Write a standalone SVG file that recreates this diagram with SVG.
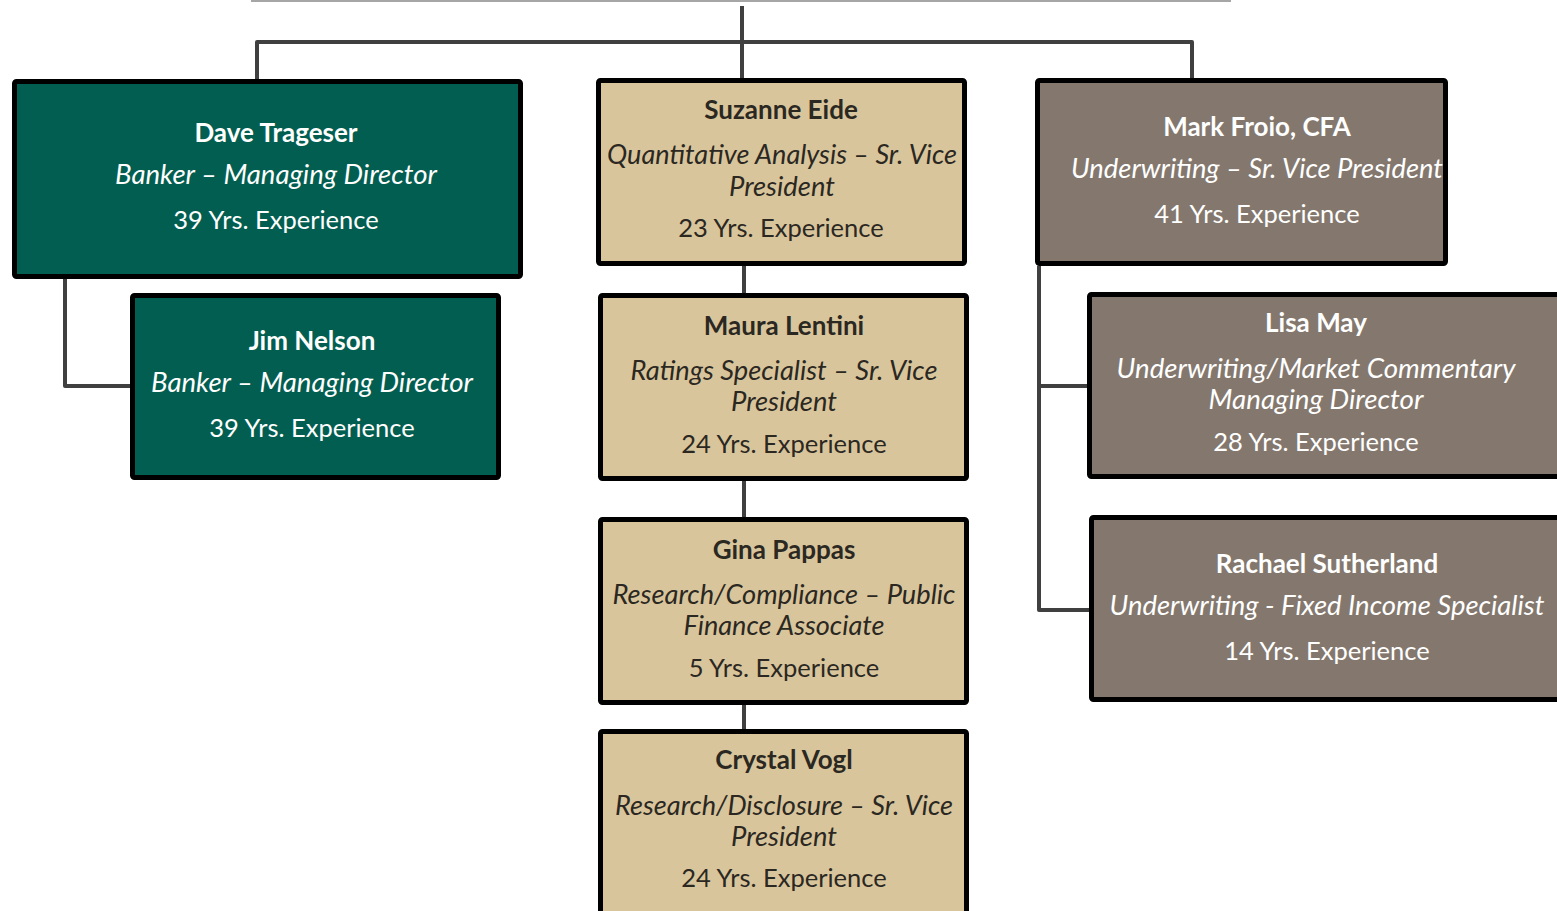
<svg xmlns="http://www.w3.org/2000/svg" width="1557" height="911" viewBox="0 0 1557 911">
<style>
.box{stroke:#000;stroke-width:5}
.g{fill:#025E50}
.t{fill:#D9C59C}
.b{fill:#84786E}
text{font-family:Lato,"Open Sans","Liberation Sans",sans-serif;font-size:25.5px;text-anchor:middle}
.nm{font-weight:bold;font-size:26px}
.rl{font-style:italic;font-size:26.5px}
.w text{fill:#fff}
.d text{fill:#2b2822}
.conn{fill:none;stroke:#404040;stroke-width:4;stroke-linejoin:round}
</style>
<rect width="1557" height="911" fill="#fff"/>
<line x1="251" y1="1" x2="1231" y2="1" stroke="#a6a6a6" stroke-width="2"/>
<g id="connectors" class="conn">
<path d="M742 6 V80"/>
<path d="M257 80 V42 H1192 V80"/>
<path d="M65 279 V386 H130"/>
<path d="M744 266 V293"/>
<path d="M744 481 V517"/>
<path d="M744 705 V729"/>
<path d="M1039 266 V610 H1090"/>
<path d="M1039 386 H1088"/>
</g>
<g id="dave" class="w">
<rect class="box g" x="14.5" y="81.5" width="506" height="195" rx="2"/>
<text class="nm" x="276" y="142">Dave Trageser</text>
<text class="rl" x="276" y="184" textLength="322" lengthAdjust="spacingAndGlyphs">Banker – Managing Director</text>
<text x="276" y="229">39 Yrs. Experience</text>
</g>
<g id="jim" class="w">
<rect class="box g" x="132.5" y="295.5" width="366" height="182" rx="2"/>
<text class="nm" x="312" y="350">Jim Nelson</text>
<text class="rl" x="312" y="392" textLength="322" lengthAdjust="spacingAndGlyphs">Banker – Managing Director</text>
<text x="312" y="437">39 Yrs. Experience</text>
</g>
<g id="suzanne" class="d">
<rect class="box t" x="598.5" y="80.5" width="366" height="183" rx="2"/>
<text class="nm" x="781" y="119">Suzanne Eide</text>
<text class="rl" x="782" y="164" textLength="350" lengthAdjust="spacingAndGlyphs">Quantitative Analysis – Sr. Vice</text>
<text class="rl" x="782" y="196" textLength="106" lengthAdjust="spacingAndGlyphs">President</text>
<text x="781" y="237">23 Yrs. Experience</text>
</g>
<g id="maura" class="d">
<rect class="box t" x="600.5" y="295.5" width="366" height="183" rx="2"/>
<text class="nm" x="784" y="335">Maura Lentini</text>
<text class="rl" x="784" y="380" textLength="307" lengthAdjust="spacingAndGlyphs">Ratings Specialist – Sr. Vice</text>
<text class="rl" x="784" y="411" textLength="106" lengthAdjust="spacingAndGlyphs">President</text>
<text x="784" y="453">24 Yrs. Experience</text>
</g>
<g id="gina" class="d">
<rect class="box t" x="600.5" y="519.5" width="366" height="183" rx="2"/>
<text class="nm" x="784" y="559">Gina Pappas</text>
<text class="rl" x="784" y="604" textLength="343" lengthAdjust="spacingAndGlyphs">Research/Compliance – Public</text>
<text class="rl" x="784" y="635" textLength="201" lengthAdjust="spacingAndGlyphs">Finance Associate</text>
<text x="784" y="677">5 Yrs. Experience</text>
</g>
<g id="crystal" class="d">
<rect class="box t" x="600.5" y="731.5" width="366" height="190" rx="2"/>
<text class="nm" x="784" y="769">Crystal Vogl</text>
<text class="rl" x="784" y="815" textLength="338" lengthAdjust="spacingAndGlyphs">Research/Disclosure – Sr. Vice</text>
<text class="rl" x="784" y="846" textLength="106" lengthAdjust="spacingAndGlyphs">President</text>
<text x="784" y="887">24 Yrs. Experience</text>
</g>
<g id="mark" class="w">
<rect class="box b" x="1037.5" y="80.5" width="408" height="183" rx="2"/>
<text class="nm" x="1257" y="136">Mark Froio, CFA</text>
<text class="rl" x="1257" y="178" textLength="372" lengthAdjust="spacingAndGlyphs">Underwriting – Sr. Vice President</text>
<text x="1257" y="223">41 Yrs. Experience</text>
</g>
<g id="lisa" class="w">
<rect class="box b" x="1089.5" y="294.5" width="480" height="182" rx="2"/>
<text class="nm" x="1316" y="332">Lisa May</text>
<text class="rl" x="1316" y="378" textLength="399" lengthAdjust="spacingAndGlyphs">Underwriting/Market Commentary</text>
<text class="rl" x="1316" y="409" textLength="215" lengthAdjust="spacingAndGlyphs">Managing Director</text>
<text x="1316" y="451">28 Yrs. Experience</text>
</g>
<g id="rachael" class="w">
<rect class="box b" x="1091.5" y="517.5" width="480" height="182" rx="2"/>
<text class="nm" x="1327" y="573">Rachael Sutherland</text>
<text class="rl" x="1327" y="615" textLength="435" lengthAdjust="spacingAndGlyphs">Underwriting - Fixed Income Specialist</text>
<text x="1327" y="660">14 Yrs. Experience</text>
</g>
</svg>
